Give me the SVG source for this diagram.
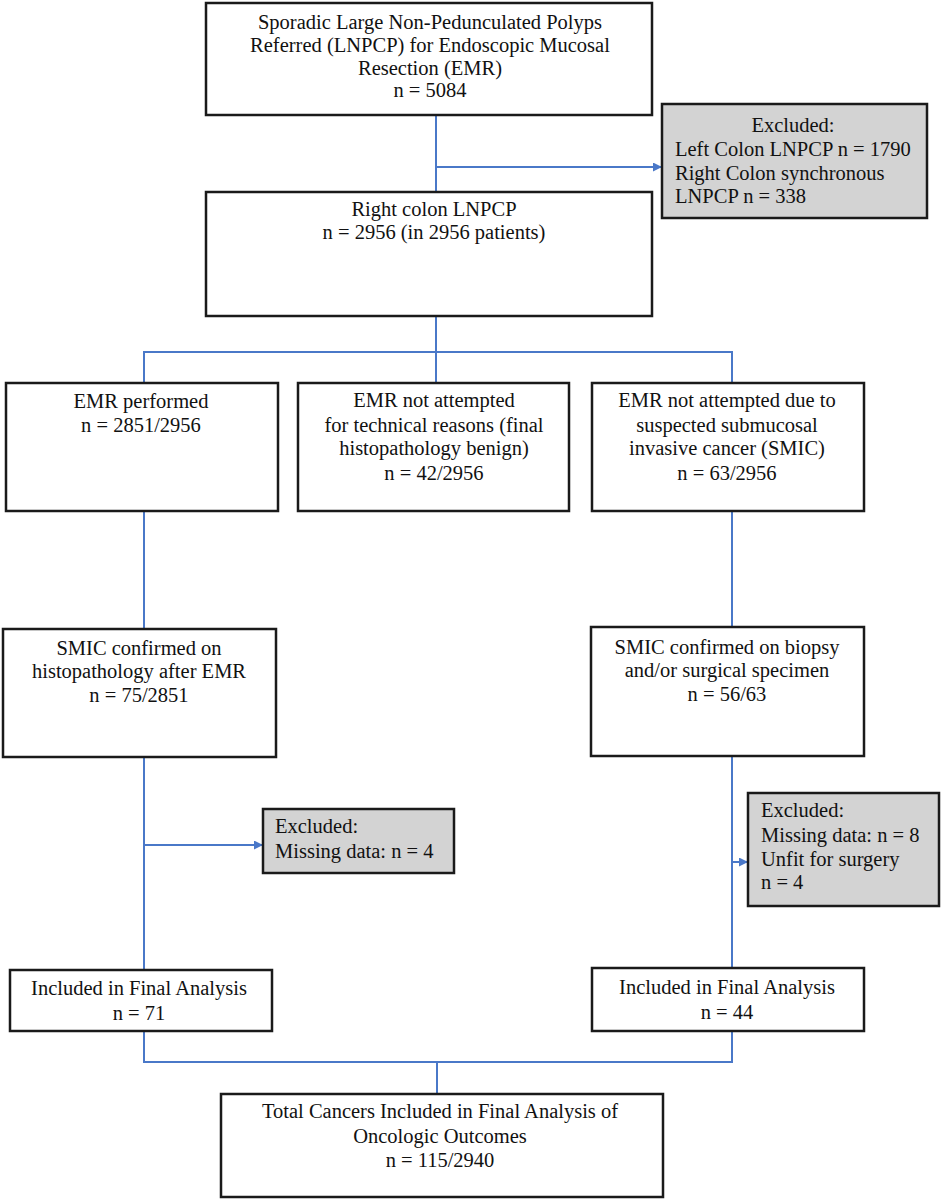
<svg xmlns="http://www.w3.org/2000/svg" width="942" height="1200" viewBox="0 0 942 1200">
<style>
.box{fill:#ffffff;stroke:#1a1a1a;stroke-width:2.5}
.exc{fill:#d3d3d3;stroke:#1a1a1a;stroke-width:2.5}
.t{font-family:"Liberation Serif","Times New Roman",serif;font-size:20.5px;fill:#111111}
.c{text-anchor:middle}
.ln{fill:none;stroke:#4a78c8;stroke-width:2}
</style>
<defs>
<marker id="ah" viewBox="0 0 10 10" refX="10" refY="5" markerWidth="9" markerHeight="9" orient="auto" markerUnits="userSpaceOnUse">
<path d="M0,0 L10,5 L0,10 z" fill="#4a78c8"/>
</marker>
</defs>
<rect width="942" height="1200" fill="#ffffff"/>
<g id="connectors">
<line class="ln" x1="436" y1="115" x2="436" y2="192"/>
<line class="ln" x1="436" y1="167" x2="662" y2="167" marker-end="url(#ah)"/>
<polyline class="ln" points="436,316 436,352"/>
<polyline class="ln" points="144,383 144,352 732,352 732,383"/>
<line class="ln" x1="436" y1="352" x2="436" y2="383"/>
<line class="ln" x1="144" y1="511" x2="144" y2="629"/>
<line class="ln" x1="732" y1="511" x2="732" y2="627"/>
<line class="ln" x1="144" y1="757" x2="144" y2="970"/>
<line class="ln" x1="144" y1="845" x2="263" y2="845" marker-end="url(#ah)"/>
<line class="ln" x1="732" y1="756" x2="732" y2="968"/>
<line class="ln" x1="732" y1="862" x2="748" y2="862" marker-end="url(#ah)"/>
<polyline class="ln" points="144,1031 144,1062 732,1062 732,1031"/>
<line class="ln" x1="437" y1="1062" x2="437" y2="1094"/>
</g>
<g id="n-referred">
<rect class="box" x="206" y="3" width="446" height="112"/>
<text class="t c" x="430" y="29">Sporadic Large Non-Pedunculated Polyps</text>
<text class="t c" x="430" y="52">Referred (LNPCP) for Endoscopic Mucosal</text>
<text class="t c" x="430" y="75">Resection (EMR)</text>
<text class="t c" x="430" y="97">n = 5084</text>
</g>
<g id="n-excluded1">
<rect class="exc" x="662" y="104" width="265" height="114"/>
<text class="t c" x="793" y="132">Excluded:</text>
<text class="t" x="675" y="156">Left Colon LNPCP n = 1790</text>
<text class="t" x="675" y="180">Right Colon synchronous</text>
<text class="t" x="675" y="203">LNPCP n = 338</text>
</g>
<g id="n-right-colon">
<rect class="box" x="206" y="192" width="446" height="124"/>
<text class="t c" x="434" y="216">Right colon LNPCP</text>
<text class="t c" x="434" y="239">n = 2956 (in 2956 patients)</text>
</g>
<g id="n-emr-performed">
<rect class="box" x="6" y="383" width="272" height="128"/>
<text class="t c" x="141" y="408">EMR performed</text>
<text class="t c" x="141" y="432">n = 2851/2956</text>
</g>
<g id="n-emr-not-technical">
<rect class="box" x="298" y="383" width="271" height="128"/>
<text class="t c" x="434" y="407">EMR not attempted</text>
<text class="t c" x="434" y="432">for technical reasons (final</text>
<text class="t c" x="434" y="455">histopathology benign)</text>
<text class="t c" x="434" y="480">n = 42/2956</text>
</g>
<g id="n-emr-not-smic">
<rect class="box" x="592" y="383" width="272" height="128"/>
<text class="t c" x="727" y="407">EMR not attempted due to</text>
<text class="t c" x="727" y="432">suspected submucosal</text>
<text class="t c" x="727" y="455">invasive cancer (SMIC)</text>
<text class="t c" x="727" y="480">n = 63/2956</text>
</g>
<g id="n-smic-left">
<rect class="box" x="3" y="629" width="273" height="128"/>
<text class="t c" x="139" y="655">SMIC confirmed on</text>
<text class="t c" x="139" y="678">histopathology after EMR</text>
<text class="t c" x="139" y="702">n = 75/2851</text>
</g>
<g id="n-smic-right">
<rect class="box" x="591" y="627" width="273" height="129"/>
<text class="t c" x="727" y="654">SMIC confirmed on biopsy</text>
<text class="t c" x="727" y="677">and/or surgical specimen</text>
<text class="t c" x="727" y="701">n = 56/63</text>
</g>
<g id="n-excluded2">
<rect class="exc" x="263" y="809" width="191" height="64"/>
<text class="t" x="275" y="833">Excluded:</text>
<text class="t" x="275" y="858">Missing data: n = 4</text>
</g>
<g id="n-excluded3">
<rect class="exc" x="748" y="793" width="191" height="113"/>
<text class="t" x="761" y="817">Excluded:</text>
<text class="t" x="761" y="842">Missing data: n = 8</text>
<text class="t" x="761" y="866">Unfit for surgery</text>
<text class="t" x="761" y="889">n = 4</text>
</g>
<g id="n-included-left">
<rect class="box" x="10" y="970" width="262" height="61"/>
<text class="t c" x="139" y="995">Included in Final Analysis</text>
<text class="t c" x="139" y="1020">n = 71</text>
</g>
<g id="n-included-right">
<rect class="box" x="592" y="968" width="272" height="63"/>
<text class="t c" x="727" y="994">Included in Final Analysis</text>
<text class="t c" x="727" y="1019">n = 44</text>
</g>
<g id="n-total">
<rect class="box" x="221" y="1094" width="442" height="103"/>
<text class="t c" x="440" y="1118">Total Cancers Included in Final Analysis of</text>
<text class="t c" x="440" y="1143">Oncologic Outcomes</text>
<text class="t c" x="440" y="1167">n = 115/2940</text>
</g>
</svg>
